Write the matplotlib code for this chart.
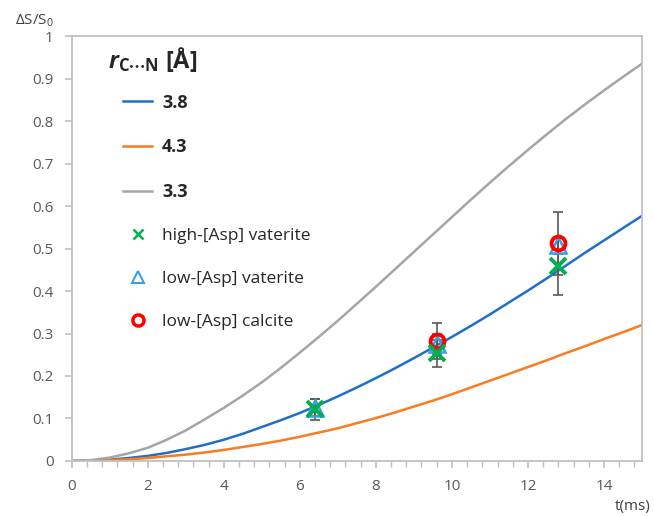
import matplotlib
matplotlib.use("Agg")
import matplotlib.pyplot as plt
from matplotlib.ticker import MultipleLocator
from matplotlib.lines import Line2D

plt.rcParams['font.family'] = ['Open Sans', 'DejaVu Sans']
plt.rcParams['mathtext.fontset'] = 'custom'
plt.rcParams['mathtext.rm'] = 'Open Sans'
plt.rcParams['mathtext.it'] = 'Open Sans:italic'
plt.rcParams['mathtext.bf'] = 'Open Sans:bold'
plt.rcParams['mathtext.bfit'] = 'Open Sans:italic:bold'

# 模拟曲线, t 单位 ms
t_curve = [0, 0.5, 1, 1.5, 2, 2.5, 3, 3.5, 4, 4.5, 5, 5.5, 6, 6.5, 7, 7.5,
           8, 8.5, 9, 9.5, 10, 10.5, 11, 11.5, 12, 12.5, 13, 13.5, 14, 14.5, 15]
s_38 = [0, 0.001, 0.003, 0.007, 0.012, 0.019, 0.028, 0.038, 0.05, 0.064,
        0.08, 0.096, 0.113, 0.132, 0.152, 0.173, 0.195, 0.218, 0.242, 0.267,
        0.292, 0.318, 0.345, 0.373, 0.401, 0.43, 0.46, 0.49, 0.519, 0.548, 0.577]
s_43 = [0, 0.0005, 0.002, 0.004, 0.007, 0.011, 0.015, 0.02, 0.026, 0.033,
        0.04, 0.048, 0.057, 0.067, 0.077, 0.089, 0.101, 0.114, 0.128, 0.142,
        0.157, 0.173, 0.189, 0.205, 0.221, 0.237, 0.254, 0.27, 0.287, 0.303, 0.32]
s_33 = [0, 0.002, 0.008, 0.018, 0.031, 0.05, 0.072, 0.098, 0.125, 0.154,
        0.185, 0.219, 0.255, 0.292, 0.33, 0.37, 0.41, 0.451, 0.492, 0.533,
        0.574, 0.615, 0.655, 0.694, 0.732, 0.769, 0.805, 0.839, 0.872, 0.904, 0.935]

# 实验点
t_high_vat = [6.4, 9.6, 12.8]
s_high_vat = [0.122, 0.253, 0.459]
e_high_vat = [0.025, 0.031, 0.068]

t_low_vat = [6.4, 9.6, 12.8]
s_low_vat = [0.125, 0.275, 0.508]
e_low_vat = [0.02, 0.024, 0.02]

t_low_cal = [9.6, 12.8]
s_low_cal = [0.282, 0.512]
e_low_cal = [0.042, 0.074]

BLUE = "#1f6fc9"
ORANGE = "#f97b22"
GRAY = "#a5a5a5"
AXCOL = "#c0c0c0"
TXT = "#595959"

fig = plt.figure(figsize=(6.54, 5.16), dpi=100)
ax = fig.add_axes([0.1096, 0.1066, 0.8721, 0.8236])

l1, = ax.plot(t_curve, s_38, color=BLUE, lw=1.8)
l2, = ax.plot(t_curve, s_43, color=ORANGE, lw=1.8)
l3, = ax.plot(t_curve, s_33, color=GRAY, lw=1.8)

eb = dict(fmt='none', ecolor=TXT, elinewidth=1.2, capsize=3.5, capthick=1.2, zorder=3)
ax.errorbar(t_low_vat, s_low_vat, yerr=e_low_vat, **eb)
ax.errorbar(t_low_cal, s_low_cal, yerr=e_low_cal, **eb)
ax.errorbar(t_high_vat, s_high_vat, yerr=e_high_vat, **eb)

ax.plot(t_low_vat, s_low_vat, ls='none', marker='^', ms=11, mfc='none',
        mec='#3ba0e0', mew=1.8, zorder=4)
ax.plot(t_low_cal, s_low_cal, ls='none', marker='o', ms=10, mfc='none',
        mec='#ff0000', mew=2.8, zorder=5)
ax.plot(t_high_vat, s_high_vat, ls='none', marker='x', ms=11,
        mec='#00b050', mew=2.8, zorder=6)

ax.set_xlim(0, 15)
ax.set_ylim(0, 1)
ax.xaxis.set_major_locator(MultipleLocator(2))
ax.xaxis.set_minor_locator(MultipleLocator(0.4))
ax.set_yticks([i / 10 for i in range(11)])
ax.set_yticklabels(['0'] + ['0.%d' % i for i in range(1, 10)] + ['1'])

for sp in ax.spines.values():
    sp.set_color(AXCOL)
    sp.set_linewidth(1.3)
ax.tick_params(axis='both', which='major', direction='out', length=5,
               color=AXCOL, width=1.2, labelsize=11, labelcolor=TXT, pad=8)
ax.tick_params(axis='x', which='minor', direction='out', length=4,
               color=AXCOL, width=1.0)

fig.text(0.023, 0.952, r'ΔS/S$_0$', fontsize=11, color='#404040')
fig.text(0.995, 0.012, 't(ms)', fontsize=11, color='#404040', ha='right')

# 图例标题单独放
ax.text(0.063, 0.945, r'$\mathbfit{r}_{\mathbf{C\cdots N}}$ [Å]', transform=ax.transAxes,
        fontsize=17, fontweight='bold', color='#262626', va='center', ha='left')

handles = [
    l1, l2, l3,
    Line2D([], [], ls='none', marker='x', ms=7, mec='#00b050', mew=1.8),
    Line2D([], [], ls='none', marker='^', ms=8, mfc='none', mec='#3ba0e0', mew=1.5),
    Line2D([], [], ls='none', marker='o', ms=8, mfc='none', mec='#ff0000', mew=2.5),
]
labels = ['3.8', '4.3', '3.3', 'high-[Asp] vaterite', 'low-[Asp] vaterite',
          'low-[Asp] calcite']
leg = ax.legend(handles, labels, loc='upper left', bbox_to_anchor=(0.078, 0.881),
                frameon=False, fontsize=13, labelspacing=1.47, borderaxespad=0,
                handlelength=1.6, handletextpad=0.55)
for i, txt in enumerate(leg.get_texts()):
    txt.set_color('#262626')
    if i < 3:
        txt.set_fontweight('bold')
        txt.set_fontsize(13)
    else:
        txt.set_fontsize(12.5)

fig.savefig("out.png", dpi=100)
